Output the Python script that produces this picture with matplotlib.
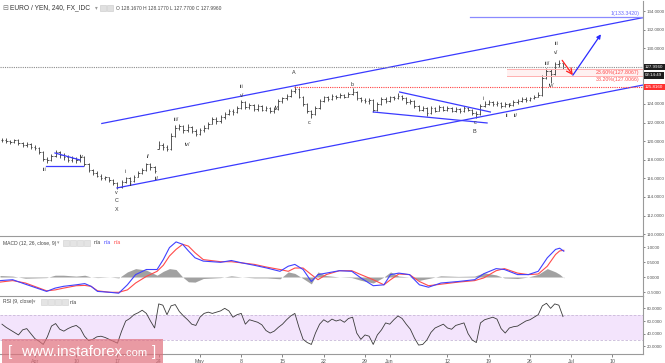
import matplotlib
matplotlib.use('Agg')
import matplotlib.pyplot as plt
import numpy as np
from matplotlib.collections import LineCollection
from matplotlib.patches import Rectangle

# ---------------- data (x in trading days, Apr 3 2017 = 0) ----------------
bar_days = np.arange(-4.0, 64.01, 0.5)
close = [120.1, 120.0, 119.9, 120.1, 119.8, 119.6, 119.7, 119.4, 119.3, 118.8,
         118.1, 118.0, 118.4, 118.8, 118.5, 118.3, 118.0, 118.2, 118.0, 118.3,
         117.5, 116.9, 116.6, 116.3, 116.0, 116.1, 115.8, 115.5, 115.1, 115.6,
         116.0, 115.7, 116.2, 116.6, 116.9, 117.5, 117.2, 116.8, 119.6, 119.4,
         119.2, 120.6, 121.4, 121.6, 121.2, 121.5, 121.1, 120.8, 121.2, 121.4,
         121.9, 122.4, 122.2, 122.6, 122.9, 123.3, 123.1, 123.6, 124.2, 123.7,
         123.9, 123.5, 123.8, 123.4, 123.6, 123.2, 123.5, 124.3, 124.6, 124.9,
         125.4, 125.6, 124.8, 124.0, 123.2, 122.9, 123.6, 124.3, 124.7, 124.5,
         124.9, 124.7, 125.0, 124.8, 125.1, 125.3, 124.6, 124.4, 124.3, 124.4,
         123.4, 124.0, 124.5, 124.3, 124.7, 124.6, 124.9, 124.6, 124.2, 124.3,
         123.8, 123.4, 123.6, 123.0, 123.6, 123.3, 123.7, 123.4, 123.6, 123.3,
         123.5, 123.2, 123.6, 123.4, 123.0, 122.9, 123.8, 124.0, 124.2, 124.0,
         124.1, 123.8, 124.0, 123.9, 124.2, 124.3, 124.5, 124.4, 124.6, 124.8,
         125.0, 126.8, 127.6, 127.2, 128.3, 128.4, 128.0]
high = [120.3, 120.3, 120.1, 120.2, 120.2, 119.9, 119.9, 119.8, 119.6, 119.4,
        118.9, 118.3, 118.6, 119.0, 118.9, 118.7, 118.5, 118.4, 118.3, 118.5,
        118.4, 117.6, 117.0, 116.8, 116.5, 116.3, 116.2, 115.9, 115.6, 115.8,
        116.2, 116.1, 116.4, 116.8, 117.1, 117.7, 117.6, 117.3, 120.0, 119.8,
        119.6, 120.9, 121.7, 121.9, 121.7, 121.8, 121.6, 121.3, 121.4, 121.7,
        122.1, 122.6, 122.6, 122.8, 123.1, 123.5, 123.5, 123.8, 124.4, 124.3,
        124.1, 124.0, 124.0, 123.9, 123.8, 123.7, 123.7, 124.5, 124.8, 125.1,
        125.6, 125.9, 125.7, 124.9, 124.1, 123.4, 123.8, 124.5, 124.9, 124.9,
        125.1, 125.0, 125.2, 125.1, 125.3, 125.7, 125.4, 124.8, 124.6, 124.6,
        124.5, 124.2, 124.7, 124.7, 124.9, 124.9, 125.2, 125.0, 124.7, 124.5,
        124.4, 123.9, 123.8, 123.7, 123.8, 123.7, 123.9, 123.8, 123.8, 123.7,
        123.7, 123.6, 123.8, 123.7, 123.5, 123.2, 124.0, 124.3, 124.4, 124.3,
        124.3, 124.2, 124.2, 124.1, 124.4, 124.5, 124.7, 124.7, 124.8, 125.0,
        125.3, 127.1, 127.9, 127.8, 128.5, 128.7, 128.4]
low = [119.9, 119.8, 119.7, 119.8, 119.6, 119.4, 119.4, 119.2, 119.0, 118.6,
       117.9, 117.7, 117.9, 118.3, 118.2, 118.0, 117.8, 117.8, 117.7, 117.8,
       117.3, 116.7, 116.4, 116.1, 115.8, 115.8, 115.6, 115.3, 114.9, 115.0,
       115.5, 115.5, 115.6, 116.1, 116.5, 116.8, 116.9, 116.6, 119.2, 119.1,
       118.9, 119.1, 120.5, 121.2, 120.9, 121.0, 120.9, 120.6, 120.7, 121.0,
       121.3, 121.8, 121.9, 122.0, 122.4, 122.8, 122.8, 123.0, 123.5, 123.5,
       123.5, 123.3, 123.3, 123.2, 123.2, 123.0, 123.0, 123.4, 124.1, 124.4,
       124.8, 125.2, 124.6, 123.8, 123.0, 122.5, 122.8, 123.5, 124.2, 124.3,
       124.4, 124.5, 124.6, 124.6, 124.7, 125.0, 124.4, 124.2, 124.1, 124.0,
       123.1, 123.3, 123.9, 124.1, 124.2, 124.4, 124.5, 124.4, 124.0, 124.0,
       123.6, 123.2, 123.2, 122.7, 122.9, 123.1, 123.2, 123.2, 123.2, 123.1,
       123.1, 123.0, 123.1, 123.2, 122.8, 122.5, 122.8, 123.7, 123.9, 123.8,
       123.8, 123.6, 123.7, 123.7, 123.8, 124.0, 124.2, 124.2, 124.3, 124.5,
       124.7, 124.9, 126.7, 126.3, 127.1, 128.0, 127.8]

rsi = [55, 50, 46, 42, 38, 46, 48, 40, 32, 28, 23, 35, 52, 56, 47, 44, 48, 51, 53, 48,
       36, 29, 31, 35, 36, 34, 31, 28, 25, 44, 60, 64, 70, 73, 77, 72, 60, 49, 87, 85,
       70, 84, 86, 75, 68, 62, 55, 53, 66, 72, 74, 72, 74, 76, 80, 76, 66, 70, 72, 55,
       62, 60, 58, 54, 45, 41, 44, 50, 55, 62, 68, 72, 50, 31, 26, 23, 41, 55, 62, 58,
       63, 60, 62, 58, 64, 66, 41, 31, 38, 36, 23, 38, 46, 57, 55, 62, 68, 64, 55, 47,
       33, 22, 23, 30, 42, 49, 52, 55, 49, 47, 53, 55, 57, 40, 30, 26, 57, 62, 64, 66,
       63, 48, 41, 49, 51, 52, 56, 60, 62, 66, 70, 84, 88, 80, 87, 85, 67]

macd_days = [-4.24, -2.7, -1.16, 1.41, 2.44, 3.47, 5.0, 6.04, 6.8, 7.58, 9.1, 10.15,
             11.2, 12.2, 13.5, 14.8, 15.55, 16.3, 17.1, 17.9, 18.6, 19.4, 20.4, 22.5,
             23.8, 25.1, 26.6, 28.1, 29.7, 30.7, 31.5, 32.5, 33.5, 34.3, 35.3, 36.9,
             38.4, 39.5, 41.0, 42.3, 43.1, 44.1, 45.4, 46.6, 47.7, 49.2, 51.3, 53.3,
             54.4, 55.9, 56.9, 58.5, 59.8, 61.0, 62.1, 63.1, 63.6, 64.1]
macd_line = [-0.12, -0.09, -0.24, -0.48, -0.37, -0.31, -0.26, -0.22, -0.31, -0.48, -0.51, -0.54,
             -0.26, 0.08, 0.25, 0.25, 0.58, 0.98, 1.17, 1.09, 0.87, 0.64, 0.53, 0.49,
             0.55, 0.47, 0.39, 0.30, 0.19, 0.36, 0.42, 0.25, -0.15, 0.08, 0.13, 0.21,
             0.19, -0.03, -0.29, -0.26, 0.08, 0.13, 0.08, -0.26, -0.34, -0.20, -0.15, -0.09,
             0.11, 0.28, 0.25, 0.08, 0.08, 0.19, 0.64, 0.92, 0.96, 0.86]
signal_line = [-0.17, -0.12, -0.20, -0.46, -0.43, -0.37, -0.29, -0.28, -0.31, -0.46, -0.51, -0.51,
               -0.43, -0.20, 0.02, 0.19, 0.39, 0.70, 0.92, 1.09, 1.03, 0.81, 0.58, 0.51,
               0.51, 0.47, 0.42, 0.33, 0.25, 0.19, 0.30, 0.30, 0.08, -0.09, 0.08, 0.21,
               0.21, 0.08, -0.09, -0.26, -0.09, 0.10, 0.08, -0.15, -0.29, -0.24, -0.17, -0.12,
               -0.03, 0.21, 0.28, 0.13, 0.08, 0.10, 0.36, 0.75, 0.87, 0.89]

tick_days = [0, 5, 10, 15, 20, 25, 30, 35, 40, 43, 50, 55, 60, 65, 70]
tick_labels = ['Apr', '10', '17', '24', 'May', '8', '15', '22', '29', 'Jun', '12', '19', '26', 'Jul', '10']

price_ticks = [110, 112, 114, 116, 118, 120, 122, 124, 126, 128, 130, 132, 134]
hidden_price_ticks = [126, 128]   # covered by the price boxes

last_close = 127.9960
level_A = 125.8160
target_1 = 133.3420
fib_236 = 127.8067
fib_382 = 127.0066

wave_labels = [  # (text, day, price)
    ('iii', 1.2, 116.9), ('iv', 5.6, 118.4), ('v', 9.9, 114.5), ('C', 9.9, 113.6), ('X', 9.9, 112.6),
    ('i', 11.0, 116.7), ('ii', 11.6, 115.3), ('i/', 13.7, 118.4), ('ii/', 14.8, 116.0),
    ('iii/', 17.1, 122.3), ('iv/', 18.5, 119.6), ('v/', 25.1, 124.9), ('iii', 25.0, 125.9),
    ('iv', 29.3, 123.6), ('A', 31.4, 127.4), ('c', 33.2, 122.0), ('b', 38.4, 126.1),
    ('c', 53.3, 122.0), ('B', 53.3, 121.0), ('i', 54.3, 124.6), ('ii', 57.2, 122.8),
    ('i/', 57.6, 123.8), ('ii/', 58.3, 122.8), ('iii/', 62.1, 128.4), ('iv/', 62.6, 126.0),
    ('v/', 63.2, 129.5), ('iii', 63.2, 130.5)]

# ---------------- figure ----------------
plt.rcParams['font.family'] = ['Liberation Sans', 'DejaVu Sans']
W, H = 665, 363
fig = plt.figure(figsize=(W / 100, H / 100), dpi=100)

def fx(px):
    return px / W

def fy(py):
    return 1 - py / H

ax = fig.add_axes([0, fy(236), fx(643), 235 / H])
am = fig.add_axes([0, fy(296), fx(643), 60 / H])
ar = fig.add_axes([0, fy(354), fx(643), 58 / H])

xlim = (-4.24, 73.7)
grid_c = '#9a9a9a'
lab_c = '#555555'
TS = 3.2
for a in (ax, am, ar):
    a.set_xlim(*xlim)
    for s in ('top', 'left'):
        a.spines[s].set_visible(False)
    for s in ('right', 'bottom'):
        a.spines[s].set_color(grid_c)
        a.spines[s].set_linewidth(0.8)
    a.yaxis.tick_right()
    a.tick_params(axis='y', labelsize=TS, colors=lab_c, length=1.5, width=0.5, pad=1.0)
    a.set_xticks([])
    a.patch.set_alpha(0)

# ---------------- price panel ----------------
ax.set_ylim(109.8, 135.08)
ax.set_yticks(price_ticks)
ax.set_yticklabels(['' if v in hidden_price_ticks else '%.4f' % v for v in price_ticks])

c = np.array(close); hi = np.array(high); lo = np.array(low)
op = np.clip(np.r_[c[0], c[:-1]], lo, hi)
segs = []
tw = 0.17
for d, o, h_, l_, cc in zip(bar_days, op, hi, lo, c):
    segs.append([(d, l_), (d, h_)])
    segs.append([(d - tw, o), (d, o)])
    segs.append([(d, cc), (d + tw, cc)])
ax.add_collection(LineCollection(segs, colors='#3c3c3c', linewidths=0.6))

blue = '#3a3aff'
slope = (126.04 - 114.97) / (73.7 - 9.94)
def chan(d, d0, p0):
    return p0 + slope * (np.asarray(d) - d0)
xd = np.array([9.94, 73.7])
ax.plot(xd, chan(xd, 9.94, 114.97), color=blue, lw=0.9)
xu = np.array([8.1, 73.7])
ax.plot(xu, chan(xu, 31.4, 125.95), color=blue, lw=0.9)
ax.plot([44.2, 55.2], [125.29, 123.14], color=blue, lw=0.9)
ax.plot([41.0, 54.8], [123.14, 121.96], color=blue, lw=0.9)
ax.plot([2.42, 5.45], [118.73, 117.98], color=blue, lw=0.9)
ax.plot([1.3, 5.8], [117.33, 117.33], color=blue, lw=0.9)

ax.axhline(last_close, color='#8c8c8c', lw=0.8, ls=(0, (1, 1)))
ax.plot([31.4, xlim[1]], [level_A, level_A], color='#ff4040', lw=0.8, ls=(0, (1, 1)))
ax.plot([52.7, xlim[1]], [target_1, target_1], color='#8a8aff', lw=0.9)
ax.text(73.3, target_1 + 0.12, '1(%.4f)' % target_1, color='#6a6aff', fontsize=3.8, ha='right', va='bottom')
ax.fill_between([57.2, xlim[1]], fib_382, fib_236, color='#ffe8e8', alpha=0.6, lw=0)
ax.plot([57.2, xlim[1]], [fib_236, fib_236], color='#ffb0b0', lw=0.7)
ax.plot([57.2, xlim[1]], [fib_382, fib_382], color='#ffb0b0', lw=0.7)
ax.text(73.3, fib_236 - 0.15, '23.60%%(%.4f)' % fib_236, color='#ff4c4c', fontsize=3.8, ha='right', va='top')
ax.text(73.3, fib_382 - 0.15, '38.20%%(%.4f)' % fib_382, color='#ff4c4c', fontsize=3.8, ha='right', va='top')

ax.annotate('', xy=(65.2, 127.1), xytext=(63.9, 128.7),
            arrowprops=dict(arrowstyle='->', color='#ff2020', lw=0.9, shrinkA=0, shrinkB=0))
ax.annotate('', xy=(68.6, 131.5), xytext=(65.2, 127.1),
            arrowprops=dict(arrowstyle='-|>', color='#2a2aff', lw=0.9, shrinkA=0, shrinkB=0,
                            mutation_scale=6))

for t, d, p in wave_labels:
    ax.text(d, p, t, fontsize=3.9, color='#333333', ha='center', va='center')

def axis_box(a, y, text, fc):
    a.text(1.003, y, text, transform=a.get_yaxis_transform(), fontsize=TS, color='white',
           va='center', ha='left',
           bbox=dict(boxstyle='square,pad=0.3', fc=fc, ec='none'))

axis_box(ax, last_close, '%.4f' % last_close, '#1e1e1e')
axis_box(ax, last_close - 0.9, '02:14:49', '#1e1e1e')
axis_box(ax, level_A, '%.4f' % level_A, '#ff3030')

# header
fig.text(fx(2), fy(8), '\u229f', fontsize=5, color='#777', va='center', family='DejaVu Sans')
fig.text(fx(10), fy(8), 'EURO / YEN, 240, FX_IDC', fontsize=4.8, color='#333', va='center')
fig.text(fx(95), fy(8), '\u25be', fontsize=4, color='#999', va='center', family='DejaVu Sans')
for xx in (100, 107):
    fig.patches.append(Rectangle((fx(xx), fy(11)), fx(6), 6 / H, transform=fig.transFigure,
                                 fc='#e0e0e0', ec='#c8c8c8', lw=0.4))
fig.text(fx(116), fy(8), 'O 128.1670 H 128.1770 L 127.7700 C 127.9960', fontsize=3.5,
         color='#444', va='center')

# ---------------- MACD panel ----------------
md = np.array(macd_days); ml = np.array(macd_line); sl = np.array(signal_line)
am.set_ylim(-0.633, 1.367)
am.set_yticks([-0.5, 0, 0.5, 1.0])
am.set_yticklabels(['-0.5000', '0.0000', '0.5000', '1.0000'])
am.fill_between(md, 0, ml - sl, color='#7a7a7a', alpha=0.7, lw=0)
am.plot(md, sl, color='#ff4b4b', lw=0.8)
am.plot(md, ml, color='#4040ff', lw=0.8)
fig.text(fx(3), fy(243), 'MACD (12, 26, close, 9)', fontsize=3.6, color='#444', va='center')
fig.text(fx(57), fy(243), '\u25be', fontsize=3.5, color='#999', va='center', family='DejaVu Sans')
for xx in (63, 70, 77, 84):
    fig.patches.append(Rectangle((fx(xx), fy(246)), fx(5.5), 6 / H, transform=fig.transFigure,
                                 fc='#e4e4e4', ec='#cfcfcf', lw=0.4))
fig.text(fx(94), fy(243), 'n/a', fontsize=3.6, color='#333', va='center')
fig.text(fx(104), fy(243), 'n/a', fontsize=3.6, color='#3a3aff', va='center')
fig.text(fx(114), fy(243), 'n/a', fontsize=3.6, color='#ff3a3a', va='center')

# ---------------- RSI panel ----------------
ar.set_ylim(7.9, 99.5)
ar.set_yticks([20, 40, 60, 80])
ar.set_yticklabels(['20.0000', '40.0000', '60.0000', '80.0000'])
ar.axhspan(30, 70, color='#f3e4fc', lw=0)
ar.axhline(70, color='#c8b8d8', lw=0.6, ls=(0, (3, 2)))
ar.axhline(30, color='#c8b8d8', lw=0.6, ls=(0, (3, 2)))
ar.plot(bar_days, rsi, color='#3a3a3a', lw=0.6)
ar.set_xticks(tick_days)
ar.set_xticklabels(tick_labels)
ar.tick_params(axis='x', labelsize=3.8, colors=lab_c, length=2, width=0.5, pad=1.5)
fig.text(fx(3), fy(302), 'RSI (9, close)', fontsize=3.6, color='#444', va='center')
fig.text(fx(33), fy(302), '\u25be', fontsize=3.5, color='#999', va='center', family='DejaVu Sans')
for xx in (41, 48, 55, 62):
    fig.patches.append(Rectangle((fx(xx), fy(305)), fx(5.5), 6 / H, transform=fig.transFigure,
                                 fc='#e4e4e4', ec='#cfcfcf', lw=0.4))
fig.text(fx(70), fy(302), 'n/a', fontsize=3.6, color='#333', va='center')

# ---------------- watermark ----------------
fig.patches.append(Rectangle((fx(2), 0), fx(161), 24 / H, transform=fig.transFigure,
                             fc='#e0707c', ec='none', alpha=0.7, zorder=10))
renderer = fig.canvas.get_renderer()
fig.text(fx(8), fy(352), '[', fontsize=11, color='white', va='center', zorder=11)
tw_ = fig.text(fx(21), fy(352), 'www.instaforex', fontsize=10.8, color='white', va='center', zorder=11)
ext = tw_.get_window_extent(renderer)
fig.text(ext.x1 / W + fx(0.5), fy(353), '.com', fontsize=8, color='white', va='center', zorder=11)
fig.text(fx(152), fy(352), ']', fontsize=11, color='white', va='center', zorder=11)

fig.savefig('out.png', dpi=100)
